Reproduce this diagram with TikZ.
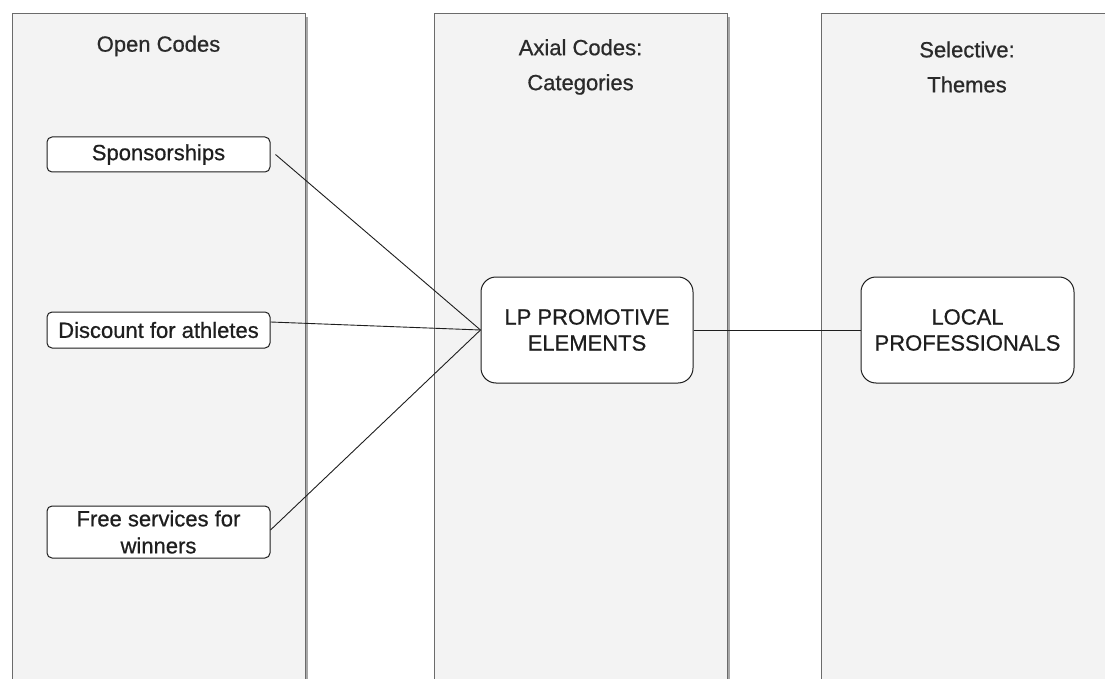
\documentclass[tikz,border=0pt]{standalone}
\usepackage{fontspec}
\setmainfont{Liberation Sans}
\newfontfamily\heavy{Liberation Sans}[UprightFeatures={FakeBold=0.7}]
\definecolor{lanefill}{HTML}{F3F3F3}
\definecolor{laneedge}{HTML}{6B6B6B}
\definecolor{laneshadow}{HTML}{A8A8A8}
\definecolor{ink}{HTML}{1E1E1E}
\definecolor{headink}{HTML}{2A2A2A}
\begin{document}
\begin{tikzpicture}[x=1pt,y=-1pt,
  lane/.style={draw=laneedge,fill=lanefill,line width=1pt},
  laneshade/.style={fill=laneshadow,draw=none},
  header/.style={text=headink,font=\heavy\fontsize{22}{35}\selectfont,align=center,inner sep=0pt},
  codebox/.style={draw=ink,fill=white,line width=1pt,rounded corners=5pt,
    text=ink,font=\heavy\fontsize{22}{27}\selectfont,align=center,inner sep=0pt},
  bigbox/.style={draw=ink,fill=white,line width=1pt,rounded corners=15pt,
    text=ink,font=\heavy\fontsize{22}{26}\selectfont,align=center,inner sep=0pt,
    minimum height=106pt},
  link/.style={draw=ink,line width=0.9pt}]
\useasboundingbox (0,0) rectangle (1105,679);
\clip (0,0) rectangle (1105,679);
\fill[white] (0,0) rectangle (1105,679);

% three swimlanes with a thin drop shadow on the right
\fill[laneshade] (15,17) rectangle (308,700);
\fill[laneshade] (437,17) rectangle (730,700);
\fill[laneshade] (824,17) rectangle (1116,700);
\path[lane] (12,14) rectangle (305,700);
\path[lane] (434,14) rectangle (727,700);
\path[lane] (821,14) rectangle (1113,700);

% lane headers
\node[header] (h1) at (158.5,46) {Open Codes};
\node[header] (h2) at (580.5,67) {Axial Codes:\\Categories};
\node[header] (h3) at (967,67) {Selective:\\Themes};

% open codes
\node[codebox,minimum width=223pt,minimum height=35pt] (sp) at (158.5,154.5) {Sponsorships};
\node[codebox,minimum width=223pt,minimum height=36pt] (disc) at (158.5,330) {Discount for athletes};
\node[codebox,minimum width=223pt,minimum height=52pt] (fs) at (158.5,532) {Free services for\\winners};

% category and theme
\node[bigbox,minimum width=212pt] (lp) at (587,330) {LP PROMOTIVE\\ELEMENTS};
\node[bigbox,minimum width=213pt] (loc) at (967.5,330) {LOCAL\\PROFESSIONALS};

% connectors
\draw[link] ([xshift=5pt]sp.east) -- (lp.west);
\draw[link] ([yshift=8pt]disc.east) -- (lp.west);
\draw[link] ([yshift=2pt]fs.east) -- (lp.west);
\draw[link] (lp.east) -- (loc.west);
\end{tikzpicture}
\end{document}
